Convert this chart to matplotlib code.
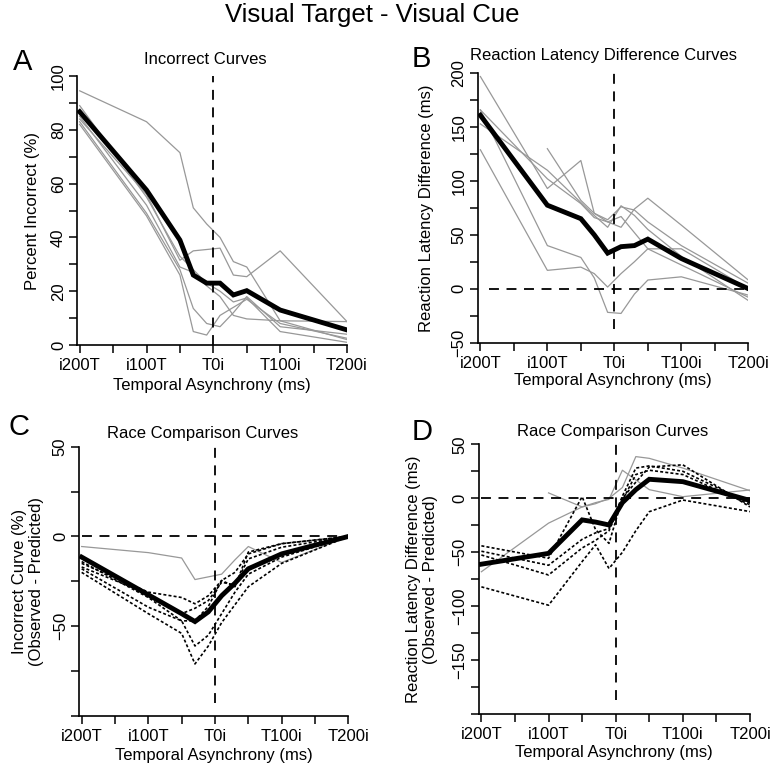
import numpy as np
import matplotlib
matplotlib.use("Agg")
import matplotlib.pyplot as plt

plt.rcParams['font.family'] = ['Liberation Sans', 'DejaVu Sans']

# ---------------- data ----------------
soa = [-200, -100, -50, -30, -10, 10, 30, 50, 100, 200]
xtick_pos = [-200, -100, 0, 100, 200]
xtick_labels = ['i200T', 'i100T', 'T0i', 'T100i', 'T200i']
nan = np.nan

# Panel A: percent incorrect
A_mean = [86.7, 57.6, 39, 26, 23, 23, 18.6, 20.2, 13, 5.6]
A_s1 = [94.5, 83, 71.5, 51, 45, 40, 31, 29, 9, 2]
A_s2 = [84, 56, 31.5, 35, 35.5, 36, 26, 25.4, 35, 8.7]
A_s3 = [83, 49, 28, 13.6, 8, 6.8, 12, 18, 6.8, 4]
A_s4 = [82, 48, 26, 5, 3.7, 11, 14, 17, 8, 2.5]
A_s5 = [85, 52, 29, 27, 22, 18, 11, 9.7, 9, 8.7]
A_s6 = [89, 55, 33, 28, 23, 20, 16, 17.5, 5, 1]

# Panel B: reaction latency difference
B_mean = [161, 77.5, 65, 50, 33, 39, 40, 46, 28, 0]
B_s1 = [197, 93, 119, 70, 62, 57, 74, 84, 59, 8]
B_s2 = [nan, 130, 82, 70, 64, 76, 73, 62, 40, 5]
B_s3 = [166, 102, 79, 66, 62, 67, 52, 37, 37, 0]
B_s4 = [129, 17, 20, 14, 1.5, 14, 25, 37, 22, -8]
B_s5 = [166, 40, 29, 10, -22, -23, -5, 8, 11, -6]
B_s6 = [153, 110, 80, 68, 57, 77, 68, 55, 30, -11]

# Panel C: race comparison, incorrect
C_mean = [-11.5, -32.5, -43, -47.4, -42, -33, -26, -18, -9.7, 0]
C_g1 = [-5.6, -9, -12, -24, -22.5, -21, -13, -5.6, -14.5, 0]
C_d1 = [-15, -31, -34, -37.5, -33, -24.5, -28, -8.7, -4, 0]
C_d2 = [-17, -32, -43, -40, -35.7, -25.5, -27, -12.5, -6, 0]
C_d3 = [-18, -39.4, -47, -61, -55, -43, -31, -21, -11.5, 0]
C_d4 = [-20, -43, -54, -71, -61, -48, -38, -28, -15, 0]
C_d5 = [-14, -34, -47, -47, -39, -24.5, -20, -9.7, -4, 0]

# Panel D: race comparison, latency
D_mean = [-61, -51, -20, -22, -24.7, -4, 8, 17.6, 15.4, -2]
D_g1 = [-68, -23, -8, -4, -1, 26, 17, 8, 1.5, 7.7]
D_g2 = [nan, 5, -8, -5, 0, 10, 38.6, 37, 28, 7]
D_d1 = [-44, -55.5, 1.5, -29, -41.7, 0, 15, 29, 31, -8]
D_d2 = [-49, -62, -38, -32, -28, 2, 28, 30, 25, -4.6]
D_d3 = [-52.5, -71, -46, -39, -30, -2, 22, 26, 22, -6]
D_d4 = [-82, -99, -58.6, -43, -65, -50, -30, -12.4, -1.6, -12.3]

# ---------------- style ----------------
W, H = 774, 771
fig = plt.figure(figsize=(W / 100, H / 100), dpi=100)

def box(l, r, t, b):
    return [l / W, 1 - b / H, (r - l) / W, (b - t) / H]

GRAY = '#989898'
DASH = (0, (5.5, 4.2))
DOT = (0, (1.8, 1.3))
FS = 12

def setup(ax, ylim, ymajor, yminor, ylabel, ylx, xly):
    ax.set_xlim(-204, 200)
    ax.set_ylim(*ylim)
    for s in ['top', 'right']:
        ax.spines[s].set_visible(False)
    for s in ['left', 'bottom']:
        ax.spines[s].set_linewidth(1.2)
    ax.set_xticks(xtick_pos)
    ax.set_xticklabels(xtick_labels)
    ax.set_xticks([-150, -50, 50, 150], minor=True)
    ax.set_yticks(ymajor)
    ax.set_yticks(yminor, minor=True)
    ax.tick_params(which='both', direction='out', length=5.5, width=1.1,
                   labelsize=FS)
    ax.tick_params(axis='x', pad=4)
    ax.tick_params(axis='y', pad=2.5)
    for lab in ax.get_yticklabels():
        lab.set_rotation(90)
        lab.set_va('center')
    ax.set_ylabel(ylabel, fontsize=FS, linespacing=1.15)
    ax.yaxis.set_label_coords(ylx, 0.5)
    ax.set_xlabel('Temporal Asynchrony (ms)', fontsize=FS)
    ax.xaxis.set_label_coords(0.5, xly)

# ---------------- Panel A ----------------
axA = fig.add_axes(box(77, 347, 76, 345))
for s in [A_s1, A_s2, A_s3, A_s4, A_s5, A_s6]:
    axA.plot(soa, s, color=GRAY, lw=0.9)
axA.plot(soa, A_mean, color='black', lw=3.5, solid_joinstyle='miter')
axA.axvline(0, color='black', lw=1.3, ls=DASH)
setup(axA, (0, 100), np.arange(0, 101, 20), np.arange(10, 100, 20),
      'Percent Incorrect (%)', -0.137, -0.123)

# ---------------- Panel B ----------------
axB = fig.add_axes(box(477.7, 748.3, 73.3, 342.5))
for s in [B_s1, B_s2, B_s3, B_s4, B_s5, B_s6]:
    axB.plot(soa, s, color=GRAY, lw=0.9)
axB.plot(soa, B_mean, color='black', lw=3.5, solid_joinstyle='miter')
axB.axvline(0, ymin=0.052, ymax=1, color='black', lw=1.3, ls=DASH)
axB.hlines(0, -187, 200, color='black', lw=1.3, ls=DASH)
setup(axB, (-50, 200), np.arange(-50, 201, 50), np.arange(-25, 200, 50),
      'Reaction Latency Difference (ms)', -0.161, -0.1135)

# ---------------- Panel C ----------------
axC = fig.add_axes(box(79, 348.3, 446.7, 716))
axC.plot(soa, C_g1, color=GRAY, lw=0.9)
for s in [C_d1, C_d2, C_d3, C_d4, C_d5]:
    axC.plot(soa, s, color='black', lw=1.2, ls=DOT)
axC.plot(soa, C_mean, color='black', lw=3.5, solid_joinstyle='miter')
axC.axvline(0, ymin=0.047, ymax=1, color='black', lw=1.3, ls=DASH)
axC.hlines(0, -200, 200, color='black', lw=1.3, ls=DASH)
setup(axC, (-100, 50), [-50, 0, 50], [-100, -75, -25, 25],
      'Incorrect Curve (%)\n(Observed - Predicted)', -0.13, -0.119)

# ---------------- Panel D ----------------
axD = fig.add_axes(box(478.7, 750, 444.3, 714.3))
for s in [D_g1, D_g2]:
    axD.plot(soa, s, color=GRAY, lw=0.9)
for s in [D_d1, D_d2, D_d3, D_d4]:
    axD.plot(soa, s, color='black', lw=1.2, ls=DOT)
axD.plot(soa, D_mean, color='black', lw=3.5, solid_joinstyle='miter')
axD.axvline(0, ymin=0.052, ymax=1, color='black', lw=1.3, ls=DASH)
axD.hlines(0, -200, 200, color='black', lw=1.3, ls=DASH)
setup(axD, (-200, 50), [-150, -100, -50, 0, 50],
      [-200, -175, -125, -75, -25, 25],
      'Reaction Latency Difference (ms)\n(Observed - Predicted)', -0.15, -0.114)

# ---------------- texts ----------------
def ftext(x, y, s, **kw):
    fig.text(x / W, 1 - y / H, s, **kw)

ftext(372, 21.7, 'Visual Target - Visual Cue', fontsize=18.5, ha='center', va='baseline')
ftext(205, 64, 'Incorrect Curves', fontsize=FS, ha='center', va='baseline')
ftext(603, 60, 'Reaction Latency Difference Curves', fontsize=FS, ha='center', va='baseline')
ftext(203, 437.7, 'Race Comparison Curves', fontsize=FS, ha='center', va='baseline')
ftext(613, 435.7, 'Race Comparison Curves', fontsize=FS, ha='center', va='baseline')
ftext(13, 70, 'A', fontsize=21, ha='left', va='baseline')
ftext(412, 66.7, 'B', fontsize=21, ha='left', va='baseline')
ftext(8, 435, 'C', fontsize=21, ha='left', va='baseline')
ftext(412, 440, 'D', fontsize=21, ha='left', va='baseline')

fig.savefig('out.png', dpi=100)
